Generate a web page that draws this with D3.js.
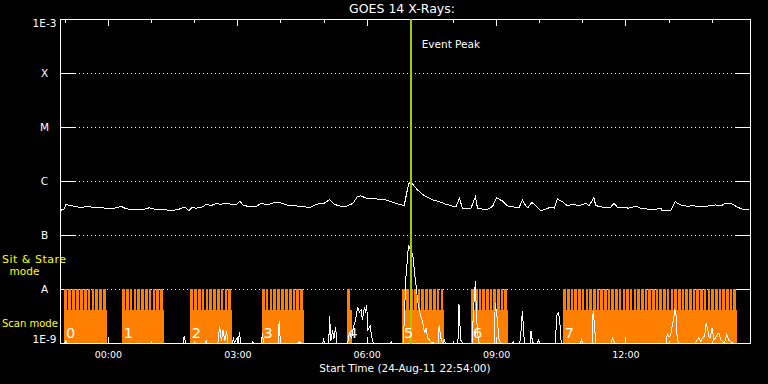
<!DOCTYPE html>
<html>
<head>
<meta charset="utf-8">
<script src="https://cdn.jsdelivr.net/npm/d3@7"></script>
<style>
  body { margin: 0; background: #000; }
  svg { display: block; font-family: "DejaVu Sans", sans-serif; }
  text { fill: #fff; }
</style>
</head>
<body>
<svg id="theSVG"></svg>
<script>
// hours after 24-Aug-11 22:54 UT, flux in W/m^2
var longFlux = [
  [0.02,2.9e-7],[0.08,3.0e-7],[0.13,3.7e-7],[0.21,3.5e-7],[0.33,3.4e-7],[0.48,3.2e-7],[0.64,3.45e-7],[0.71,3.3e-7],
  [0.87,3.3e-7],[1.02,3.15e-7],[1.25,3.15e-7],[1.41,3.4e-7],[1.52,3.05e-7],[1.72,2.95e-7],[1.95,3.0e-7],[2.06,3.2e-7],
  [2.18,3.0e-7],[2.41,2.95e-7],[2.56,2.85e-7],[2.72,2.95e-7],[2.88,3.3e-7],[2.97,2.8e-7],[3.04,3.2e-7],[3.14,3.15e-7],
  [3.26,3.2e-7],[3.38,3.7e-7],[3.49,3.5e-7],[3.61,3.85e-7],[3.72,3.7e-7],[3.84,3.9e-7],[3.95,3.7e-7],[4.08,3.7e-7],
  [4.16,4.25e-7],[4.23,3.6e-7],[4.39,3.3e-7],[4.54,3.4e-7],[4.66,3.85e-7],[4.81,3.6e-7],[4.97,4.05e-7],[5.08,4.0e-7],
  [5.24,3.6e-7],[5.31,3.45e-7],[5.47,3.45e-7],[5.62,3.4e-7],[5.78,3.2e-7],[5.93,3.7e-7],[6.12,3.9e-7],[6.24,4.5e-7],
  [6.35,3.7e-7],[6.47,3.45e-7],[6.63,3.4e-7],[6.78,3.85e-7],[6.89,5.2e-7],[6.97,5.3e-7],[7.09,4.8e-7],[7.32,4.65e-7],
  [7.47,4.6e-7],[7.63,4.25e-7],[7.78,3.85e-7],[7.97,3.5e-7],[8.05,7.3e-7],[8.09,9.5e-7],[8.17,8.7e-7],[8.28,6.8e-7],
  [8.44,5.3e-7],[8.63,4.45e-7],[8.78,4.15e-7],[8.94,3.7e-7],[9.17,3.3e-7],[9.25,4.8e-7],[9.32,3.15e-7],[9.52,3.15e-7],
  [9.62,5.1e-7],[9.67,3.15e-7],[9.87,2.9e-7],[10.02,3.4e-7],[10.11,4.9e-7],[10.25,4.25e-7],[10.37,3.45e-7],[10.52,3.3e-7],
  [10.64,3.3e-7],[10.71,4.45e-7],[10.79,3.45e-7],[10.84,3.2e-7],[10.93,4.05e-7],[11.14,2.8e-7],[11.25,3.0e-7],[11.37,3.3e-7],
  [11.45,3.15e-7],[11.52,4.65e-7],[11.64,4.15e-7],[11.75,3.5e-7],[11.87,3.7e-7],[12.03,3.5e-7],[12.18,3.85e-7],[12.26,3.5e-7],
  [12.37,4.95e-7],[12.41,3.5e-7],[12.56,3.3e-7],[12.76,3.3e-7],[12.84,3.85e-7],[12.91,3.3e-7],[13.03,3.2e-7],[13.18,3.15e-7],
  [13.34,3.4e-7],[13.45,3.15e-7],[13.65,3.0e-7],[13.80,3.0e-7],[13.92,3.15e-7],[13.95,2.8e-7],[14.15,2.8e-7],[14.25,4.15e-7],
  [14.38,3.6e-7],[14.53,3.4e-7],[14.69,3.5e-7],[14.77,3.3e-7],[14.96,3.4e-7],[15.19,3.6e-7],[15.31,3.45e-7],[15.42,3.85e-7],
  [15.57,3.75e-7],[15.69,3.3e-7],[15.81,3.0e-7],[15.96,3.0e-7]
];

var shortFlux = [
  [0,1e-9],[0.10,1e-9],[0.12,1.09e-9],[0.15,1e-9],
  [2.84,1e-9],[2.87,1.35e-9],[2.90,1e-9],
  [3.36,1e-9],[3.38,1.09e-9],[3.40,1e-9],
  [3.65,1e-9],[3.69,2.07e-9],[3.73,1.1e-9],[3.77,1.74e-9],[3.81,1.1e-9],[3.85,1.67e-9],[3.88,1e-9],
  [3.99,1e-9],[4.01,1.29e-9],[4.03,1e-9],[4.09,1.24e-9],[4.12,1e-9],[4.15,1.6e-9],[4.18,1e-9],
  [4.44,1e-9],[4.46,1.05e-9],[4.48,1e-9],
  [4.66,1e-9],[4.68,1.53e-9],[4.71,1e-9],
  [5.05,1e-9],[5.07,2.55e-9],[5.10,1e-9],
  [5.52,1e-9],[5.54,1.05e-9],[5.56,1e-9],
  [6.08,1e-9],[6.10,1.14e-9],[6.12,1e-9],
  [6.22,1e-9],[6.24,3.16e-9],[6.27,1.1e-9],[6.31,1.74e-9],[6.34,1.2e-9],[6.38,1.98e-9],[6.41,1e-9],
  [6.66,1e-9],[6.70,1.6e-9],[6.75,1.2e-9],[6.79,1.9e-9],[6.84,2.67e-9],[6.89,4.64e-9],[6.93,3.75e-9],[6.97,4.08e-9],
  [7.00,2.67e-9],[7.05,4.64e-9],[7.07,3.59e-9],[7.10,5.05e-9],[7.13,1.74e-9],[7.18,2.07e-9],[7.23,1.14e-9],[7.26,1e-9],
  [7.65,1e-9],[7.67,1.05e-9],[7.69,1e-9],
  [7.95,1e-9],[8.01,1.67e-8],[8.07,6.5e-8],[8.11,5.3e-8],[8.17,4.3e-8],[8.21,1.98e-8],[8.25,1.09e-8],[8.28,6.2e-9],
  [8.32,4.1e-9],[8.36,3.03e-9],[8.40,2.45e-9],[8.44,1.53e-9],[8.48,1.9e-9],[8.51,1.24e-9],[8.59,1.05e-9],[8.65,1e-9],
  [8.76,1e-9],[8.78,2.15e-9],[8.82,1.24e-9],[8.85,1e-9],
  [8.88,1e-9],[8.90,1.19e-9],[8.92,1e-9],
  [9.21,1e-9],[9.23,1.53e-9],[9.24,5.3e-9],[9.28,1.14e-9],[9.32,1e-9],
  [9.55,1e-9],[9.57,3.3e-9],[9.62,1.4e-8],[9.65,2.67e-9],[9.69,1.14e-9],[9.71,1e-9],
  [10.06,1e-9],[10.08,5.5e-9],[10.13,2.67e-9],[10.17,1.14e-9],[10.20,1e-9],
  [10.48,1e-9],[10.50,1.05e-9],[10.52,1e-9],
  [10.65,1e-9],[10.68,1.74e-9],[10.71,3.9e-9],[10.75,1.24e-9],[10.77,1e-9],
  [10.89,1e-9],[10.91,1.67e-9],[10.93,1.24e-9],[10.96,1e-9],
  [11.06,1e-9],[11.08,1.14e-9],[11.10,1e-9],
  [11.47,1e-9],[11.49,1.74e-9],[11.51,3.3e-9],[11.55,3.6e-9],[11.58,2.35e-9],[11.61,1e-9],
  [12.06,1e-9],[12.08,1.14e-9],[12.10,1e-9],
  [12.33,1e-9],[12.35,3.9e-9],[12.38,2.35e-9],[12.41,1e-9],
  [12.78,1e-9],[12.80,1.29e-9],[12.82,1.14e-9],[12.85,1e-9],
  [14.05,1e-9],[14.07,1.53e-9],[14.11,1.29e-9],[14.15,1.4e-9],[14.18,2.0e-9],[14.22,2.78e-9],[14.24,4.25e-9],[14.27,3.6e-9],
  [14.30,1.24e-9],[14.33,1e-9],
  [14.73,1e-9],[14.76,1.14e-9],[14.80,1.24e-9],[14.84,1.09e-9],[14.90,1.24e-9],[14.94,1.4e-9],[14.97,2.35e-9],[15.01,1.74e-9],
  [15.04,1.24e-9],[15.07,1.29e-9],[15.11,1.9e-9],[15.15,1.14e-9],[15.19,1.24e-9],[15.23,1.47e-9],[15.27,1.53e-9],[15.31,1.14e-9],
  [15.36,1.05e-9],[15.40,1e-9],[15.45,1.47e-9],[15.49,1.14e-9],[15.54,1.05e-9],[15.58,1e-9],
  [16.0,1e-9]
];

// instrument modes: scan blocks, each with a run of sit & stare frames
var modeStart = [0.09, 1.43, 3.01, 4.67, 6.64, 7.93, 9.53, 11.66];
var modeEnd   = [1.08, 2.40, 3.98, 5.65, 6.75, 8.90, 10.38, 15.69];
var modeTeeth = [11, 11, 11, 11, 1, 11, 10, 47];
var modeLabels = ["0","1","2","3","4","5","6","7"];

var classValues = [1e-9, 1e-8, 1e-7, 1e-6, 1e-5, 1e-4, 1e-3];
var classLabels = ["1E-9", "A", "B", "C", "M", "X", "1E-3"];

var eventPeak = 8.12;   // 07:01 UT
var startLabel = "Start Time (24-Aug-11 22:54:00)";
var title = "GOES 14 X-Rays:";

var W = 768, H = 384, pL = 60.5, pR = 750.5, pT = 19, pB = 343;
var orange = "#ff8000", yellow = "#ffff00", green = "#9dcc00";
var t0 = Date.UTC(2011, 7, 24, 22, 54);
function toDate(h){ return new Date(t0 + h*3600e3); }

var svg = d3.select("#theSVG").attr("width", W).attr("height", H)
    .attr("shape-rendering", "crispEdges");
svg.append("rect").attr("width", W).attr("height", H).attr("fill", "#000");

var x = d3.scaleUtc().domain([toDate(0), toDate(16)]).range([pL, pR]);
var y = d3.scaleLog().domain([1e-9, 1e-3]).range([pB, pT]);
var modeY = d3.scaleLinear().domain([0, 1, 2]).range([pB, 310, 289]);

// class gridlines + side ticks
var grid = svg.append("g");
classValues.slice(1, -1).forEach(function(v){
    var yy = y(v) + 0.5;
    grid.append("line").attr("x1", 75).attr("x2", 736).attr("y1", yy).attr("y2", yy)
        .attr("stroke", "#fff").attr("stroke-dasharray", "1,3");
    grid.append("line").attr("x1", pL).attr("x2", 75).attr("y1", yy).attr("y2", yy).attr("stroke", "#fff");
    grid.append("line").attr("x1", 736).attr("x2", pR).attr("y1", yy).attr("y2", yy).attr("stroke", "#fff");
});

// mode blocks
var modes = svg.append("g").attr("fill", orange);
modeStart.forEach(function(s, i){
    var x0 = x(toDate(s)), x1 = x(toDate(modeEnd[i]));
    modes.append("rect").attr("x", x0).attr("y", modeY(1))
        .attr("width", x1 - x0).attr("height", modeY(0) - modeY(1));
    var w = (x1 - x0) / modeTeeth[i];
    d3.range(modeTeeth[i]).forEach(function(k){
        modes.append("rect").attr("x", x0 + k*w).attr("y", modeY(2))
            .attr("width", Math.max(w - 1.1, 1)).attr("height", modeY(1) - modeY(2));
    });
});

// flux traces
var line = d3.line()
    .x(function(d){ return x(toDate(d[0])); })
    .y(function(d){ return y(Math.max(d[1], 1e-9)); });
svg.append("path").datum(shortFlux).attr("d", line)
    .attr("fill", "none").attr("stroke", "#fff").attr("stroke-width", 1);
svg.append("path").datum(longFlux).attr("d", line)
    .attr("fill", "none").attr("stroke", "#fff").attr("stroke-width", 1);

// frame
svg.append("rect").attr("x", pL).attr("y", pT + 0.5)
    .attr("width", pR - pL).attr("height", pB - pT)
    .attr("fill", "none").attr("stroke", "#fff");

// time axes (hour minor, 3-hour major)
function noDomain(g){ g.select(".domain").remove(); g.selectAll("line").attr("stroke", "#fff"); }
svg.append("g").attr("transform", "translate(0," + (pT + 0.5) + ")")
    .call(d3.axisTop(x).ticks(d3.utcHour.every(1)).tickSize(-3).tickFormat("")).call(noDomain);
svg.append("g").attr("transform", "translate(0," + (pT + 0.5) + ")")
    .call(d3.axisTop(x).ticks(d3.utcHour.every(3)).tickSize(-6).tickFormat("")).call(noDomain);
svg.append("g").attr("transform", "translate(0," + (pB + 0.5) + ")")
    .call(d3.axisBottom(x).ticks(d3.utcHour.every(1)).tickSize(-3).tickFormat("")).call(noDomain);
var xAx = svg.append("g").attr("transform", "translate(0," + (pB + 0.5) + ")")
    .call(d3.axisBottom(x).ticks(d3.utcHour.every(3)).tickSize(-7).tickPadding(8)
          .tickFormat(d3.utcFormat("%H:%M"))).call(noDomain);
xAx.selectAll("text").attr("fill", "#fff").style("font-size", "9.5px")
    .style("font-family", "DejaVu Sans, sans-serif");

// event peak marker
var ex = x(toDate(eventPeak));
svg.append("line").attr("x1", ex).attr("x2", ex).attr("y1", pT).attr("y2", pB + 1)
    .attr("stroke", green).attr("stroke-width", 2);
svg.append("text").attr("x", ex + 11).attr("y", 47.5).style("font-size", "10.5px").text("Event Peak");

// mode block numbers
modeStart.forEach(function(s, i){
    svg.append("text").attr("x", x(toDate(s)) + 1.5).attr("y", 338)
        .style("font-size", "14.5px").text(modeLabels[i]);
});

// y labels
classValues.forEach(function(v, i){
    var yy = y(v) + 4;
    if(i == 0) yy = pB;
    if(i == classValues.length - 1) yy = pT + 8;
    svg.append("text").attr("x", 44.5).attr("y", yy).attr("text-anchor", "middle")
        .style("font-size", "10.5px").text(classLabels[i]);
});

svg.append("text").attr("x", 2).attr("y", 263).style("fill", yellow).style("font-size", "11px")
    .attr("textLength", 64).text("Sit & Stare");
svg.append("text").attr("x", 24.5).attr("y", 275).attr("text-anchor", "middle")
    .style("fill", yellow).style("font-size", "10.5px").text("mode");
svg.append("text").attr("x", 2).attr("y", 327).style("fill", yellow).style("font-size", "10px")
    .text("Scan mode");

svg.append("text").attr("x", 402).attr("y", 13).attr("text-anchor", "middle")
    .style("font-size", "12.5px").text(title);
svg.append("text").attr("x", 405).attr("y", 372).attr("text-anchor", "middle")
    .style("font-size", "10.5px").text(startLabel);
</script>
</body>
</html>
